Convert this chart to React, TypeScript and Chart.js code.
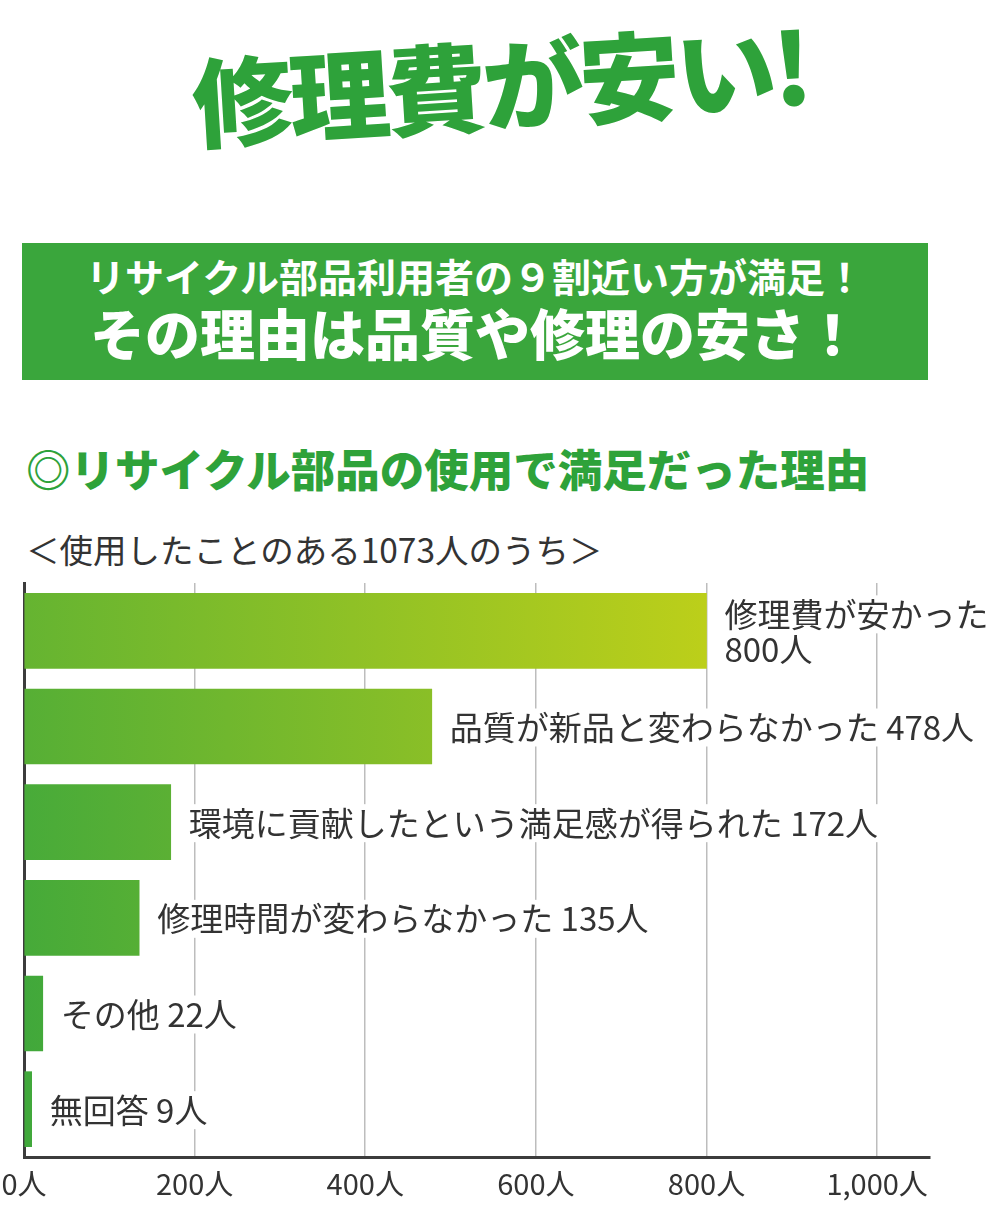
import React, { useEffect, useRef } from "react";
import { Chart, registerables } from "chart.js";

Chart.register(...registerables);

const categories = [
  "修理費が安かった",
  "品質が新品と変わらなかった",
  "環境に貢献したという満足感が得られた",
  "修理時間が変わらなかった",
  "その他",
  "無回答",
];
const counts = [800, 478, 172, 135, 22, 9];
const tickSteps = [0, 200, 400, 600, 800, 1000];

const FONT = '"Noto Sans CJK JP", "Noto Sans", sans-serif';
const GREEN_START = [64, 168, 59];
const GREEN_END = [188, 207, 26];

function mix(t: number): string {
  const c = GREEN_START.map((s, i) => Math.round(s + (GREEN_END[i] - s) * t));
  return `rgb(${c[0]}, ${c[1]}, ${c[2]})`;
}

const barLabels = {
  id: "barLabels",
  afterDatasetsDraw(chart: any) {
    const { ctx } = chart;
    const meta = chart.getDatasetMeta(0);
    ctx.save();
    ctx.font = `33px ${FONT}`;
    ctx.textBaseline = "middle";
    ctx.textAlign = "left";
    meta.data.forEach((bar: any, i: number) => {
      const x = bar.x + 18;
      const full = `${categories[i]} ${counts[i]}人`;
      let lines = [full];
      if (x + ctx.measureText(full).width > chart.width - 8) {
        lines = [categories[i], `${counts[i]}人`];
      }
      const lh = 35;
      const top = bar.y - ((lines.length - 1) * lh) / 2 + 1;
      lines.forEach((line, k) => {
        const w = ctx.measureText(line).width;
        const y = top + k * lh;
        ctx.fillStyle = "#ffffff";
        ctx.fillRect(x - 4, y - 19, w + 8, 38);
      });
      lines.forEach((line, k) => {
        ctx.fillStyle = "#333333";
        ctx.fillText(line, x, top + k * lh);
      });
    });
    ctx.restore();
  },
};

const BarChart = () => {
  const chartRef = useRef<HTMLCanvasElement | null>(null);

  useEffect(() => {
    if (!chartRef.current) return;
    const ctx = chartRef.current.getContext("2d");
    if (!ctx) return;

    const chart = new Chart(ctx, {
      type: "bar",
      data: {
        labels: categories,
        datasets: [
          {
            data: counts,
            barThickness: 75,
            borderWidth: 0,
            backgroundColor: (c: any) => {
              const { chart: ch, dataIndex } = c;
              const area = ch.chartArea;
              if (!area) return mix(0.5);
              const f = Math.min(counts[dataIndex] / 800, 1);
              const end = ch.scales.x.getPixelForValue(counts[dataIndex]);
              const g = ch.ctx.createLinearGradient(area.left, 0, Math.max(end, area.left + 1), 0);
              g.addColorStop(0, mix(f * 0.3));
              g.addColorStop(1, mix(f));
              return g;
            },
          },
        ],
      },
      options: {
        indexAxis: "y",
        animation: false,
        responsive: false,
        devicePixelRatio: 1,
        layout: { padding: { left: 24, right: 70, top: 13, bottom: 0 } },
        plugins: {
          legend: { display: false },
          tooltip: { enabled: false },
        },
        scales: {
          x: {
            min: 0,
            max: 1062,
            afterFit: (s: any) => {
              s.height = 66;
              s.paddingLeft = 0;
              s.paddingRight = 0;
            },
            afterBuildTicks: (s: any) => {
              s.ticks = tickSteps.map((v) => ({ value: v }));
            },
            ticks: {
              padding: 10,
              color: "#333333",
              font: { family: FONT, size: 29 },
              callback: (v: any) => `${Number(v).toLocaleString("en-US")}人`,
            },
            grid: {
              drawTicks: false,
              lineWidth: 1.5,
              color: (c: any) => (c.tick && c.tick.value === 0 ? "rgba(0,0,0,0)" : "#bdbdbd"),
            },
            border: { display: true, color: "#3c3c3c", width: 3 },
          },
          y: {
            afterFit: (s: any) => {
              s.width = 0;
            },
            ticks: { display: false },
            grid: { display: false, drawTicks: false },
            border: { display: true, color: "#3c3c3c", width: 3 },
          },
        },
      },
      plugins: [barLabels],
    });

    return () => {
      chart.destroy();
    };
  }, []);

  return <canvas ref={chartRef} width={1000} height={653} style={{ display: "block", width: 1000, height: 653 }} />;
};

const App = () => {
  return (
    <div
      style={{
        position: "absolute",
        left: 0,
        top: 0,
        width: 1000,
        height: 1223,
        background: "#ffffff",
        fontFamily: FONT,
        overflow: "hidden",
      }}
    >
      <div
        style={{
          position: "absolute",
          left: 0,
          width: 1000,
          top: 20,
          textAlign: "center",
          fontSize: 98,
          fontWeight: 900,
          lineHeight: "120px",
          color: "#2ea23a",
          letterSpacing: -4,
          transform: "rotate(-3.5deg) scaleX(1.03)",
        }}
      >
        修理費が安い!
      </div>
      <div
        style={{
          position: "absolute",
          left: 22,
          top: 243,
          width: 906,
          height: 137,
          background: "#3aa63c",
          color: "#ffffff",
          textAlign: "center",
        }}
      >
        <div style={{ position: "absolute", left: 0, right: 0, top: 7, fontSize: 39, fontWeight: 700, lineHeight: "50px" }}>
          リサイクル部品利用者の９割近い方が満足！
        </div>
        <div style={{ position: "absolute", left: 0, right: 0, top: 55, fontSize: 55, fontWeight: 900, lineHeight: "66px" }}>
          その理由は品質や修理の安さ！
        </div>
      </div>
      <div
        style={{
          position: "absolute",
          left: 26,
          top: 440,
          fontSize: 44.5,
          fontWeight: 900,
          lineHeight: "56px",
          color: "#2ea23a",
          whiteSpace: "nowrap",
        }}
      >
        ◎リサイクル部品の使用で満足だった理由
      </div>
      <div
        style={{
          position: "absolute",
          left: 26,
          top: 527,
          fontSize: 33.5,
          lineHeight: "44px",
          color: "#333333",
          whiteSpace: "nowrap",
        }}
      >
        ＜使用したことのある1073人のうち＞
      </div>
      <div style={{ position: "absolute", left: 0, top: 570 }}>
        <BarChart />
      </div>
    </div>
  );
};

export default App;
